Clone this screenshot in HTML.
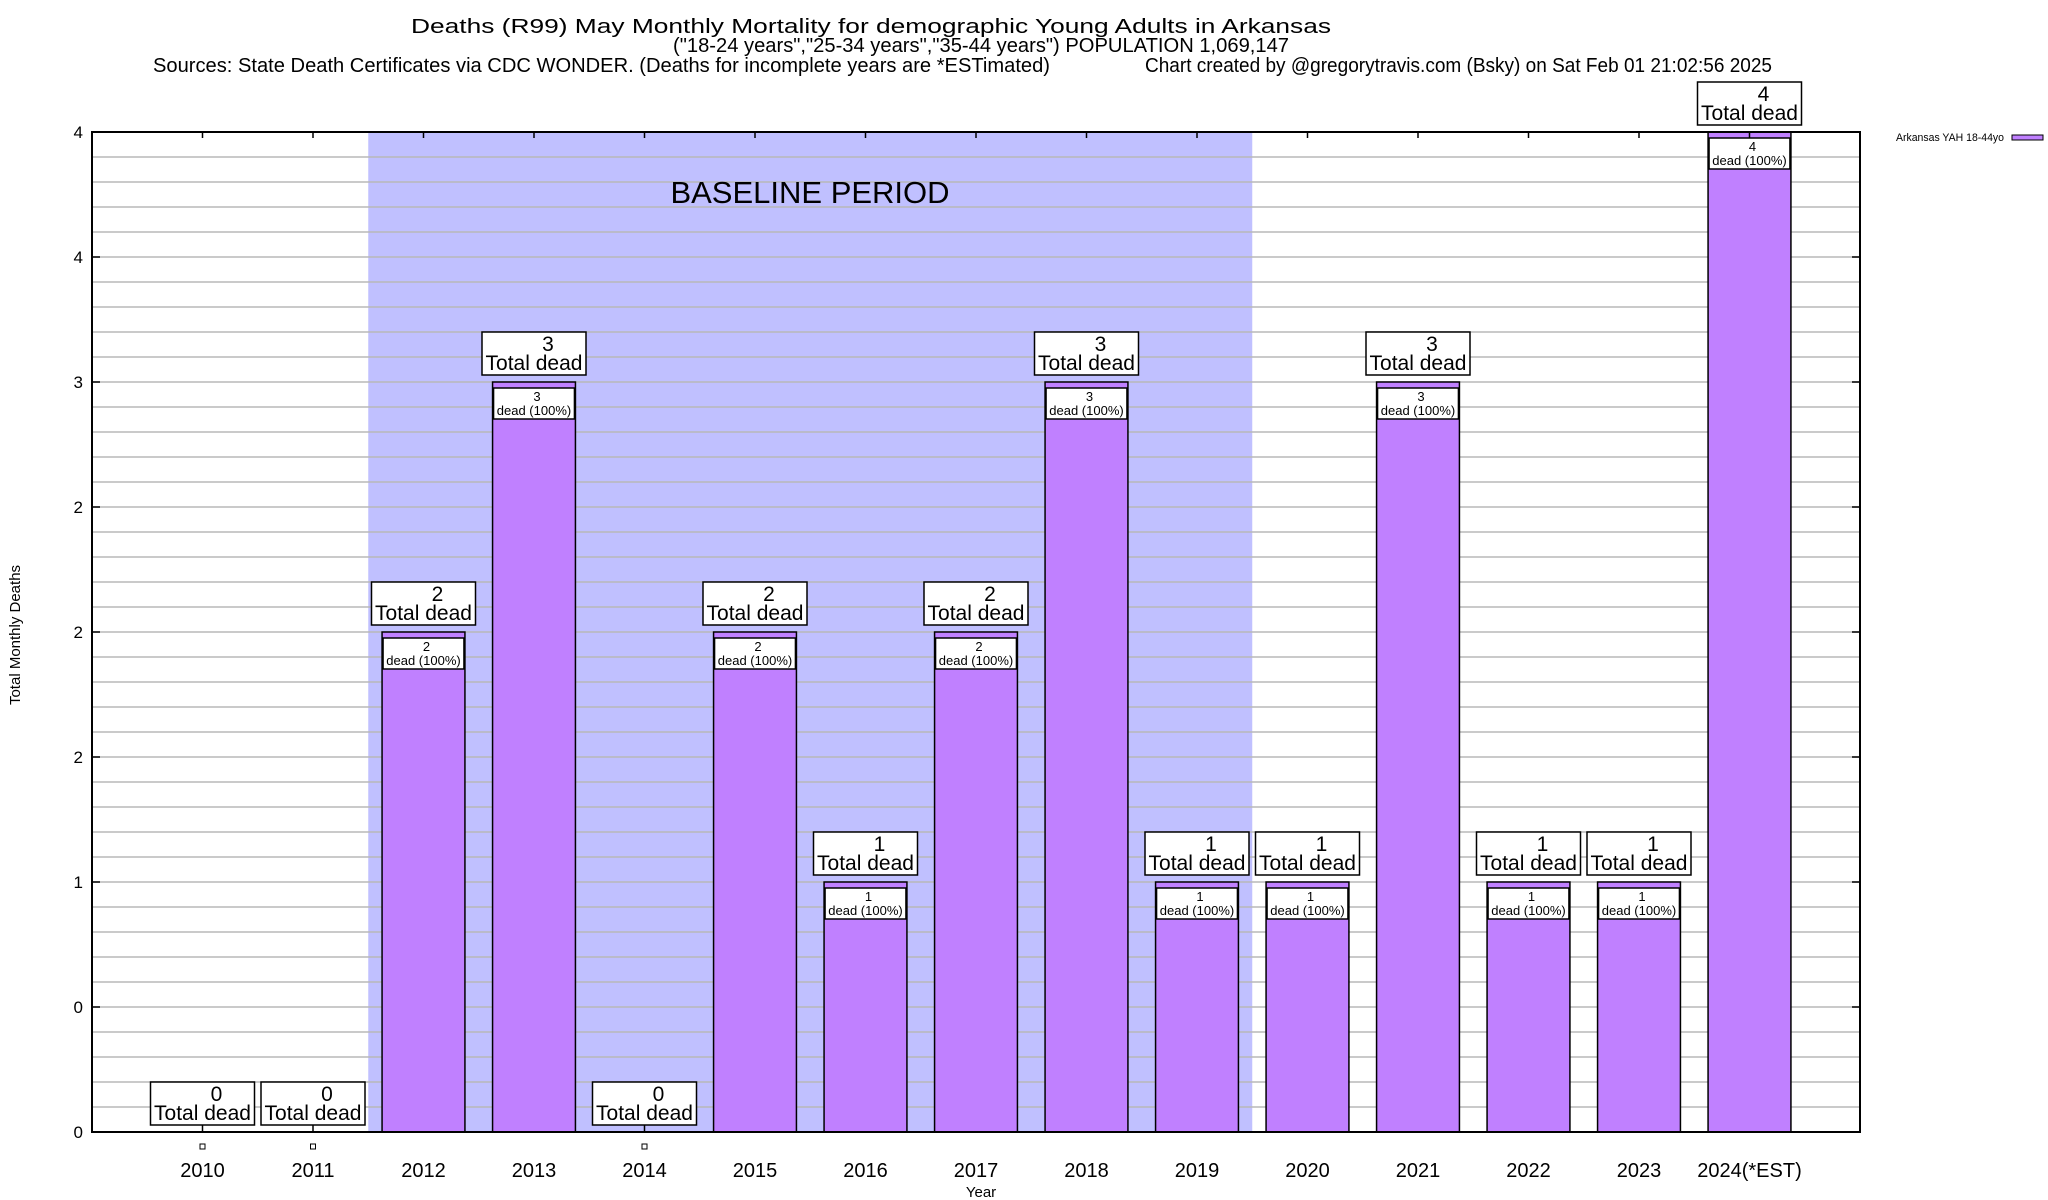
<!DOCTYPE html>
<html><head><meta charset="utf-8"><style>
html,body{margin:0;padding:0;background:#fff;}
svg{display:block;font-family:"Liberation Sans",sans-serif;}
</style></head><body>
<svg id="chart" width="2048" height="1200" viewBox="0 0 2048 1200" xmlns="http://www.w3.org/2000/svg">
<rect width="2048" height="1200" fill="#fff"/>
<g font-size="20" fill="#000">
<text x="871" y="33" text-anchor="middle" textLength="920" lengthAdjust="spacingAndGlyphs">Deaths (R99) May Monthly Mortality for demographic Young Adults in Arkansas</text>
<text x="981" y="52" text-anchor="middle" textLength="616" lengthAdjust="spacingAndGlyphs">("18-24 years","25-34 years","35-44 years") POPULATION 1,069,147</text>
<text x="153" y="72" textLength="897" lengthAdjust="spacingAndGlyphs">Sources: State Death Certificates via CDC WONDER. (Deaths for incomplete years are *ESTimated)</text>
<text x="1145" y="72" textLength="627" lengthAdjust="spacingAndGlyphs">Chart created by @gregorytravis.com (Bsky) on Sat Feb 01 21:02:56 2025</text>
</g>
<g id="plot"></g>
<text transform="translate(20,635) rotate(-90)" text-anchor="middle" font-size="15">Total Monthly Deaths</text>
<text x="981" y="1197" text-anchor="middle" font-size="15">Year</text>
<g>
<text x="1896" y="141" font-size="11" textLength="108" lengthAdjust="spacingAndGlyphs">Arkansas YAH 18-44yo</text>
<rect x="2012" y="135" width="31" height="5" fill="#c080ff" stroke="#000" stroke-width="1"/>
</g>
</svg>
<script>
const years = ["2010","2011","2012","2013","2014","2015","2016","2017","2018","2019","2020","2021","2022","2023","2024(*EST)"];
const deaths = [0,0,2,3,0,2,1,2,3,1,1,3,1,1,4];
const yTickValues = [0,0.5,1,1.5,2,2.5,3,3.5,4];
const yTickLabels = ["0","0","1","2","2","2","3","4","4"];
const baselineStart = 2; const baselineEnd = 9;

const NS="http://www.w3.org/2000/svg";
const L=92,R=1860,T=132,B=1132;
const unit=(R-L)/(years.length+1);
const xc=i=>L+(i+1)*unit;
const ymax=4;
const y=v=>B-(v/ymax)*(B-T);
const g=document.getElementById('plot');
function mk(tag,at,parent){const e=document.createElementNS(NS,tag);for(const k in at)e.setAttribute(k,at[k]);(parent||g).appendChild(e);return e;}

let bs=mk('rect',{x:xc(baselineStart)-unit/2,y:T,width:(baselineEnd-baselineStart+1)*unit,height:B-T,fill:'#c0c0ff'});


for(let k=1;k<40;k++){const v=k*0.1;const ln=mk('line',{x1:L,x2:R,y1:y(v),y2:y(v),stroke:'#b8b8b8','stroke-width':1.5});

}
let bt=mk('text',{x:810,y:203,'text-anchor':'middle','font-size':31});bt.textContent='BASELINE PERIOD';


deaths.forEach((d,i)=>{
  const cx=xc(i),bw=unit*0.75;
  if(d>0){
    const r=mk('rect',{x:cx-bw/2,y:y(d),width:bw,height:B-y(d),fill:'#c080ff',stroke:'#000','stroke-width':1.5});
    
    
    const ib=mk('rect',{x:cx-bw/2+1,y:y(d)+6,width:bw-2,height:31,fill:'#fff',stroke:'#000','stroke-width':1.5});
    
    
    const t1=mk('text',{x:cx+3,y:y(d)+19,'text-anchor':'middle','font-size':13});t1.textContent=String(d);
    
    
    const t2=mk('text',{x:cx,y:y(d)+33,'text-anchor':'middle','font-size':13});t2.textContent='dead (100%)';
    
    
  } else {
    const tk=mk('line',{x1:cx,x2:cx,y1:B-7,y2:B,stroke:'#000','stroke-width':1.5});
    
    
    const sq=mk('rect',{x:cx-2.5,y:B+12,width:5,height:5,fill:'#fff',stroke:'#000','stroke-width':1});
    
    
  }
  const by=y(d)-7;
  const box=mk('rect',{x:cx-52,y:by-43,width:104,height:43,fill:'#fff',stroke:'#000','stroke-width':1.5});
  
  
  const n=mk('text',{x:cx+14,y:by-24,'text-anchor':'middle','font-size':21});n.textContent=String(d);
  
  
  const tl=mk('text',{x:cx,y:by-5,'text-anchor':'middle','font-size':21});tl.textContent='Total dead';
  
  
  const yl=mk('text',{x:cx,y:1177,'text-anchor':'middle','font-size':20});yl.textContent=years[i];
  
  
  const tt=mk('line',{x1:cx,x2:cx,y1:T,y2:T+6,stroke:'#000','stroke-width':1.5});
  
  
});
yTickValues.forEach((v,k)=>{
  const a=mk('line',{x1:L,x2:L+8,y1:y(v),y2:y(v),stroke:'#000','stroke-width':1.5});
  
  
  const b=mk('line',{x1:R-8,x2:R,y1:y(v),y2:y(v),stroke:'#000','stroke-width':1.5});
  
  
  const t=mk('text',{x:83,y:y(v)+6,'text-anchor':'end','font-size':17});t.textContent=yTickLabels[k];
  
  
});
const fr=mk('rect',{x:L,y:T,width:R-L,height:B-T,fill:'none',stroke:'#000','stroke-width':2});


</script>
</body></html>
